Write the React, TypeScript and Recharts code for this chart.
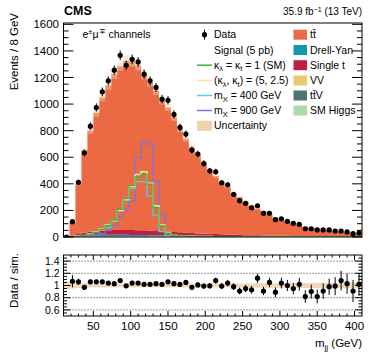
import React from 'react';
import { ComposedChart, Area, Line, Scatter, ErrorBar, XAxis, YAxis, ReferenceLine } from 'recharts';

// ---------- binning (m_jj, 8 GeV bins) ----------
const BIN_LOW = 10;
const BIN_WIDTH = 8;
const N_BINS = 50;

// ---------- data & simulation (events / bin) ----------
const dataCounts = [
  0, 115, 411, 633, 834, 974, 1092, 1175, 1255, 1367,
  1292, 1337, 1317, 1225, 1175, 1125, 1037, 1029, 922, 824,
  774, 654, 624, 553, 498, 491, 408, 393, 321, 273,
  253, 220, 235, 178, 178, 130, 137, 118, 103, 95,
  62, 62, 53, 53, 53, 45, 45, 38, 25, 30,
];
const ttbar = [
  0, 98, 382, 620, 759, 889, 1001, 1089, 1173, 1232,
  1272, 1268, 1239, 1170, 1117, 1054, 982, 935, 862, 775,
  707, 644, 591, 533, 476, 436, 392, 359, 310, 285,
  252, 224, 199, 184, 160, 136, 123, 109, 100, 85,
  69, 64, 60, 53, 49, 42, 39, 34, 25, 24,
];
const drellYan = [
  0, 3, 6, 8, 9, 10, 10, 10, 10, 10,
  10, 9, 9, 9, 8, 8, 8, 7, 7, 6,
  6, 6, 5, 5, 5, 4, 4, 4, 4, 3,
  3, 3, 3, 3, 2, 2, 2, 2, 2, 2,
  2, 1, 1, 1, 1, 1, 1, 1, 1, 1,
];
const singleTop = [
  0, 4, 12, 20, 26, 30, 33, 35, 36, 37,
  37, 37, 36, 35, 34, 32, 30, 28, 26, 24,
  22, 20, 18, 17, 15, 14, 13, 12, 11, 10,
  9, 8, 8, 7, 6, 6, 5, 5, 4, 4,
  4, 3, 3, 3, 3, 2, 2, 2, 2, 2,
];
const diboson = [
  0, 1, 2, 2, 3, 3, 3, 3, 3, 3,
  3, 3, 3, 3, 3, 3, 2, 2, 2, 2,
  2, 2, 2, 2, 2, 2, 1, 1, 1, 1,
  1, 1, 1, 1, 1, 1, 1, 1, 1, 1,
  1, 1, 1, 1, 1, 0, 0, 0, 0, 0,
];
const ttV = [
  0, 1, 2, 2, 2, 2, 2, 2, 2, 2,
  2, 2, 2, 2, 2, 2, 2, 2, 2, 2,
  2, 2, 1, 1, 1, 1, 1, 1, 1, 1,
  1, 1, 1, 1, 1, 1, 1, 1, 1, 1,
  0, 0, 0, 0, 0, 0, 0, 0, 0, 0,
];
const smHiggs = [
  0, 0, 1, 1, 1, 1, 1, 1, 1, 1,
  1, 1, 1, 1, 1, 1, 1, 1, 1, 1,
  1, 1, 1, 1, 1, 1, 1, 1, 1, 0,
  0, 0, 0, 0, 0, 0, 0, 0, 0, 0,
  0, 0, 0, 0, 0, 0, 0, 0, 0, 0,
];
// ---------- signals (5 pb) ----------
const sigSM = [
  0, 2, 5, 10, 20, 33, 58, 88, 128, 208,
  288, 386, 453, 471, 398, 220, 83, 28, 12, 8,
  6, 5, 4, 3, 3, 2, 2, 2, 2, 1,
  1, 1, 1, 1, 1, 1, 1, 1, 1, 1,
  0, 0, 0, 0, 0, 0, 0, 0, 0, 0,
];
const sigK5 = [
  0, 2, 5, 10, 22, 35, 60, 92, 122, 200,
  283, 380, 470, 490, 405, 235, 90, 30, 13, 8,
  6, 5, 4, 3, 3, 2, 2, 2, 2, 1,
  1, 1, 1, 1, 1, 1, 1, 1, 1, 1,
  0, 0, 0, 0, 0, 0, 0, 0, 0, 0,
];
const sigM400 = [
  0, 2, 6, 12, 22, 38, 55, 70, 128, 203,
  278, 366, 416, 416, 308, 165, 40, 12, 6, 4,
  3, 3, 2, 2, 2, 1, 1, 1, 1, 1,
  1, 1, 1, 1, 1, 1, 1, 1, 1, 1,
  0, 0, 0, 0, 0, 0, 0, 0, 0, 0,
];
const sigM900 = [
  0, 1, 3, 6, 10, 15, 25, 50, 90, 153,
  210, 270, 596, 716, 699, 420, 173, 28, 10, 5,
  3, 2, 2, 1, 1, 1, 1, 1, 1, 1,
  1, 1, 1, 1, 1, 1, 1, 1, 1, 1,
  1, 1, 1, 1, 1, 1, 1, 1, 1, 1,
];
// relative systematic uncertainty of the simulation
const relUnc = [
  0.06, 0.05, 0.04, 0.035, 0.03, 0.03, 0.028, 0.028, 0.028, 0.028,
  0.028, 0.028, 0.028, 0.028, 0.028, 0.028, 0.028, 0.028, 0.028, 0.028,
  0.028, 0.028, 0.03, 0.03, 0.03, 0.03, 0.03, 0.03, 0.032, 0.032,
  0.032, 0.032, 0.035, 0.035, 0.035, 0.035, 0.035, 0.035, 0.04, 0.04,
  0.04, 0.04, 0.045, 0.045, 0.045, 0.045, 0.045, 0.045, 0.045, 0.045,
];
// data / simulation
const ratio: (number | null)[] = [
  null, 1.07, 1.06, 0.97, 1.06, 1.06, 1.06, 1.04, 1.03, 1.08,
  0.995, 1.04, 1.04, 1.02, 1.02, 1.03, 1.02, 1.06, 1.03, 1.02,
  1.05, 0.97, 1.01, 0.99, 0.995, 1.08, 0.99, 1.04, 0.98, 0.91,
  0.95, 0.93, 1.12, 0.91, 1.05, 0.89, 1.04, 1.0, 0.95, 1.02,
  0.82, 0.9, 0.82, 0.91, 0.98, 0.99, 1.08, 1.03, 0.91, 1.02,
];

// ---------- ticks ----------
const xMajor = [50, 100, 150, 200, 250, 300, 350, 400];
const xTicks = [20, 30, 40, 50, 60, 70, 80, 90, 100, 110, 120, 130, 140, 150, 160, 170, 180, 190, 200, 210, 220, 230, 240, 250, 260, 270, 280, 290, 300, 310, 320, 330, 340, 350, 360, 370, 380, 390, 400];
const mainYMajor = [0, 200, 400, 600, 800, 1000, 1200, 1400, 1600];
const mainYTicks = [0, 50, 100, 150, 200, 250, 300, 350, 400, 450, 500, 550, 600, 650, 700, 750, 800, 850, 900, 950, 1000, 1050, 1100, 1150, 1200, 1250, 1300, 1350, 1400, 1450, 1500, 1550, 1600];
const ratioYMajor = [0.6, 0.8, 1, 1.2, 1.4];
const ratioYTicks = [0.55, 0.6, 0.65, 0.7, 0.75, 0.8, 0.85, 0.9, 0.95, 1, 1.05, 1.1, 1.15, 1.2, 1.25, 1.3, 1.35, 1.4, 1.45];
const ratioGrid = [0.6, 0.8, 1.2, 1.4];

// ---------- tables for the library ----------
const histRows = Array.from({ length: N_BINS + 1 }, (_, i) => {
  const k = Math.min(i, N_BINS - 1);
  const total = ttbar[k] + drellYan[k] + singleTop[k] + diboson[k] + ttV[k] + smHiggs[k];
  return {
    x: BIN_LOW + i * BIN_WIDTH,
    tt: ttbar[k], dy: drellYan[k], st: singleTop[k], vv: diboson[k], ttv: ttV[k], h: smHiggs[k],
    sm: sigSM[k], k5: sigK5[k], m400: sigM400[k], m900: sigM900[k],
    band: [total * (1 - relUnc[k]), total * (1 + relUnc[k])],
    rband: [1 - relUnc[k], 1 + relUnc[k]],
  };
});
const dataPts = dataCounts.map((n, i) => ({ x: BIN_LOW + BIN_WIDTH * (i + 0.5), y: n, err: Math.sqrt(n) }));
const ratioPts = ratio
  .map((r, i) => (r === null ? null : { x: BIN_LOW + BIN_WIDTH * (i + 0.5), y: r, err: r / Math.sqrt(dataCounts[i]) }))
  .filter((p) => p !== null) as { x: number; y: number; err: number }[];

// ---------- layout ----------
const FONT = "'Liberation Sans', Arial, Helvetica, sans-serif";
const L = 63.5, R = 362;
const MT = 23, MB = 237; // main plot top/bottom
const MAIN_H = 246;
const RT = 15, RB = 76; // ratio plot top/bottom inside its own svg
const C = {
  tt: '#EB6A44', dy: '#1697A9', st: '#C01F45', vv: '#EBC86B', ttv: '#4D7473', h: '#A9DCA6',
  sm: '#3DB53D', k5: '#EDE3AE', m400: '#4DD0E0', m900: '#7C72E6', unc: '#F2D2AA',
};

const dot = (p: any) => <circle cx={p.cx} cy={p.cy} r={2.6} fill="#000" />;

function mainXTick(p: any) {
  const v = p.payload.value; const x = p.x;
  const len = xMajor.includes(v) ? 6 : 3;
  return (
    <g>
      <line x1={x} x2={x} y1={MB} y2={MB - len} stroke="#000" strokeWidth={1} />
      <line x1={x} x2={x} y1={MT} y2={MT + len} stroke="#000" strokeWidth={1} />
    </g>
  );
}
function mainYTick(p: any) {
  const v = p.payload.value; const y = p.y;
  const major = mainYMajor.includes(v);
  const len = major ? 10 : 5;
  return (
    <g>
      <line x1={L} x2={L + len} y1={y} y2={y} stroke="#000" strokeWidth={1} />
      <line x1={R - len} x2={R} y1={y} y2={y} stroke="#000" strokeWidth={1} />
      {major && (
        <text x={59} y={y} dy="0.35em" textAnchor="end" fontSize={11.5} fontFamily={FONT} fill="#000">{v}</text>
      )}
    </g>
  );
}
function ratioXTick(p: any) {
  const v = p.payload.value; const x = p.x;
  const major = xMajor.includes(v);
  const len = major ? 5 : 2.5;
  return (
    <g>
      <line x1={x} x2={x} y1={RB} y2={RB - len} stroke="#000" strokeWidth={1} />
      <line x1={x} x2={x} y1={RT} y2={RT + len} stroke="#000" strokeWidth={1} />
      {major && (
        <text x={x} y={90} textAnchor="middle" fontSize={11.5} fontFamily={FONT} fill="#000">{v}</text>
      )}
    </g>
  );
}
function ratioYTick(p: any) {
  const v = p.payload.value; const y = p.y;
  const major = ratioYMajor.some((m) => Math.abs(m - v) < 1e-6);
  const len = major ? 7 : 3.5;
  return (
    <g>
      <line x1={L} x2={L + len} y1={y} y2={y} stroke="#000" strokeWidth={1} />
      <line x1={R - len} x2={R} y1={y} y2={y} stroke="#000" strokeWidth={1} />
      {major && (
        <text x={59.5} y={y} dy="0.35em" textAnchor="end" fontSize={10.5} fontFamily={FONT} fill="#000">{Math.round(v * 10) / 10}</text>
      )}
    </g>
  );
}

export default function App() {
  const lx = 197, ltx = 214; // legend left column
  const rx = 293.5, rtx = 310; // legend right column
  const rows = [34.7, 50, 65.2, 80.5, 95.5, 110.5, 125.8];
  const SUB = 2.5, SF = 7.5;
  return (
    <div style={{ position: 'absolute', left: 0, top: 0, width: 374, height: 363, background: '#fff', fontFamily: FONT }}>
      <div style={{ position: 'absolute', left: 0, top: 0 }}>
        <ComposedChart width={374} height={MAIN_H} data={histRows} margin={{ top: MT, right: 12, bottom: MAIN_H - MB, left: 0 }}>
          <XAxis dataKey="x" type="number" domain={[10, 410]} allowDataOverflow ticks={xTicks} interval={0}
            height={0} axisLine={false} tickLine={false} tick={mainXTick} />
          <YAxis type="number" domain={[0, 1610]} allowDataOverflow ticks={mainYTicks} interval={0}
            width={63.5} axisLine={false} tickLine={false} tick={mainYTick} />
          <Area type="stepAfter" dataKey="h" stackId="mc" stroke="none" fill={C.h} fillOpacity={1} isAnimationActive={false} />
          <Area type="stepAfter" dataKey="ttv" stackId="mc" stroke="none" fill={C.ttv} fillOpacity={1} isAnimationActive={false} />
          <Area type="stepAfter" dataKey="vv" stackId="mc" stroke="none" fill={C.vv} fillOpacity={1} isAnimationActive={false} />
          <Area type="stepAfter" dataKey="dy" stackId="mc" stroke="none" fill={C.dy} fillOpacity={1} isAnimationActive={false} />
          <Area type="stepAfter" dataKey="st" stackId="mc" stroke="none" fill={C.st} fillOpacity={1} isAnimationActive={false} />
          <Area type="stepAfter" dataKey="tt" stackId="mc" stroke="none" fill={C.tt} fillOpacity={1} isAnimationActive={false} />
          <Area type="stepAfter" dataKey="band" stroke="none" fill={C.unc} fillOpacity={0.45} isAnimationActive={false} />
          <Line type="stepAfter" dataKey="m900" stroke={C.m900} strokeWidth={1.3} dot={false} isAnimationActive={false} />
          <Line type="stepAfter" dataKey="m400" stroke={C.m400} strokeWidth={1.3} dot={false} isAnimationActive={false} />
          <Line type="stepAfter" dataKey="k5" stroke={C.k5} strokeWidth={1.5} dot={false} isAnimationActive={false} />
          <Line type="stepAfter" dataKey="sm" stroke={C.sm} strokeWidth={1.3} dot={false} isAnimationActive={false} />
          <Scatter data={dataPts} dataKey="y" shape={dot} isAnimationActive={false}>
            <ErrorBar dataKey="err" direction="y" width={0} stroke="#000" strokeWidth={1} isAnimationActive={false} />
          </Scatter>
        </ComposedChart>
      </div>
      <div style={{ position: 'absolute', left: 0, top: 240 }}>
        <ComposedChart width={374} height={123} data={histRows} margin={{ top: RT, right: 12, bottom: 0, left: 0 }}>
          <XAxis dataKey="x" type="number" domain={[10, 410]} allowDataOverflow ticks={xTicks} interval={0}
            height={123 - RB} axisLine={false} tickLine={false} tick={ratioXTick} />
          <YAxis type="number" domain={[0.5, 1.5]} allowDataOverflow ticks={ratioYTicks} interval={0}
            width={63.5} axisLine={false} tickLine={false} tick={ratioYTick} />
          {ratioGrid.map((g) => (
            <ReferenceLine key={g} y={g} stroke="#333" strokeDasharray="1 2" strokeWidth={1} />
          ))}
          <Area type="stepAfter" dataKey="rband" stroke="none" fill="#E6C197" fillOpacity={0.65} isAnimationActive={false} />
          <Scatter data={ratioPts} dataKey="y" shape={dot} isAnimationActive={false}>
            <ErrorBar dataKey="err" direction="y" width={0} stroke="#000" strokeWidth={1} isAnimationActive={false} />
          </Scatter>
        </ComposedChart>
      </div>
      <svg width={374} height={363} style={{ position: 'absolute', left: 0, top: 0, pointerEvents: 'none' }} fontFamily={FONT}>
        {/* frames */}
        <rect x={L} y={MT} width={R - L} height={MB - MT} fill="none" stroke="#000" strokeWidth={1} />
        <rect x={L} y={240 + RT} width={R - L} height={RB - RT} fill="none" stroke="#000" strokeWidth={1} />
        {/* headers */}
        <text x={64} y={15} fontSize={12.5} fontWeight="bold" fill="#000">CMS</text>
        <text x={362} y={15} fontSize={10} textAnchor="end" fill="#000">
          35.9 fb<tspan dy={-3.5} fontSize={7}>−1</tspan><tspan dy={3.5}> (13 TeV)</tspan>
        </text>
        <text x={82.5} y={37.5} fontSize={10.5} fill="#000">
          e<tspan dy={-3.5} fontSize={7.5}>±</tspan><tspan dy={3.5}>μ</tspan><tspan dy={-3.5} fontSize={7.5}>∓</tspan><tspan dy={3.5}> channels</tspan>
        </text>
        {/* axis titles */}
        <text transform="translate(18,13) rotate(-90)" textAnchor="end" fontSize={11.5} fill="#000">Events / 8 GeV</text>
        <text transform="translate(18,253) rotate(-90)" textAnchor="end" fontSize={11.5} fill="#000">Data / sim.</text>
        <text x={362} y={347} textAnchor="end" fontSize={11.5} fill="#000">
          m<tspan dy={2.5} fontSize={8}>jj</tspan><tspan dy={-2.5}> (GeV)</tspan>
        </text>
        {/* legend left column */}
        <g fontSize={10.5} fill="#000">
          <line x1={204.5} x2={204.5} y1={rows[0] - 5} y2={rows[0] + 5} stroke="#000" strokeWidth={1} />
          <circle cx={204.5} cy={rows[0]} r={2.6} fill="#000" />
          <text x={ltx} y={rows[0]} dy="0.35em">Data</text>
          <text x={ltx} y={rows[1]} dy="0.35em">Signal (5 pb)</text>
          <line x1={lx} x2={lx + 15} y1={rows[2]} y2={rows[2]} stroke={C.sm} strokeWidth={1.5} />
          <text x={ltx} y={rows[2] + 3.7}>
            κ<tspan dy={SUB} fontSize={SF}>λ</tspan><tspan dy={-SUB}> = κ</tspan><tspan dy={SUB} fontSize={SF}>t</tspan><tspan dy={-SUB}> = 1 (SM)</tspan>
          </text>
          <line x1={lx} x2={lx + 15} y1={rows[3]} y2={rows[3]} stroke={C.k5} strokeWidth={1.5} />
          <text x={ltx} y={rows[3] + 3.7}>
            (κ<tspan dy={SUB} fontSize={SF}>λ</tspan><tspan dy={-SUB}>, κ</tspan><tspan dy={SUB} fontSize={SF}>t</tspan><tspan dy={-SUB}>) = (5, 2.5)</tspan>
          </text>
          <line x1={lx} x2={lx + 15} y1={rows[4]} y2={rows[4]} stroke={C.m400} strokeWidth={1.5} />
          <text x={ltx} y={rows[4] + 3.7}>
            m<tspan dy={SUB} fontSize={SF}>X</tspan><tspan dy={-SUB}> = 400 GeV</tspan>
          </text>
          <line x1={lx} x2={lx + 15} y1={rows[5]} y2={rows[5]} stroke={C.m900} strokeWidth={1.5} />
          <text x={ltx} y={rows[5] + 3.7}>
            m<tspan dy={SUB} fontSize={SF}>X</tspan><tspan dy={-SUB}> = 900 GeV</tspan>
          </text>
          <rect x={lx} y={rows[6] - 5} width={15} height={10} fill={C.unc} />
          <text x={ltx} y={rows[6]} dy="0.35em">Uncertainty</text>
        </g>
        {/* legend right column */}
        <g fontSize={10.5} fill="#000">
          {[
            { c: C.tt, t: 'tt\u0304' },
            { c: C.dy, t: 'Drell-Yan' },
            { c: C.st, t: 'Single t' },
            { c: C.vv, t: 'VV' },
            { c: C.ttv, t: 'tt\u0304V' },
            { c: C.h, t: 'SM Higgs' },
          ].map((e, i) => (
            <g key={e.t}>
              <rect x={rx} y={rows[i] - 5} width={13.5} height={10} fill={e.c} />
              <text x={rtx} y={rows[i]} dy="0.35em">{e.t}</text>
            </g>
          ))}
        </g>
      </svg>
    </div>
  );
}
